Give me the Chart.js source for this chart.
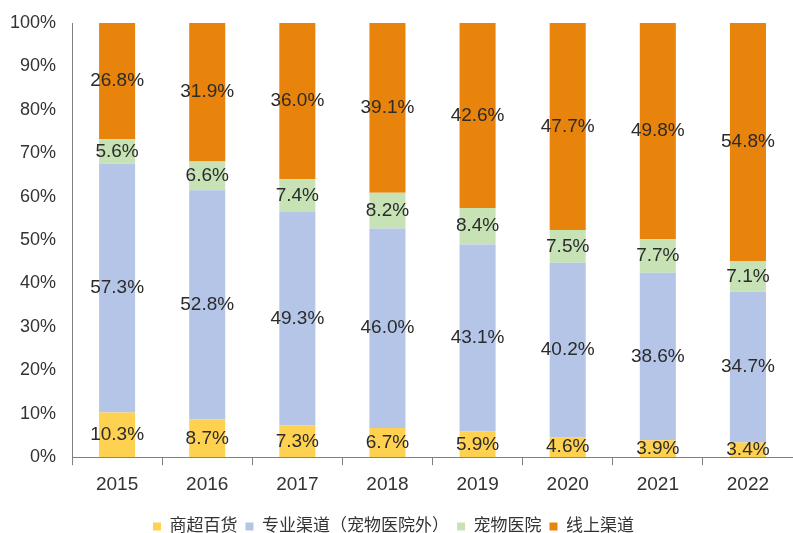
<!DOCTYPE html>
<html>
<head>
<meta charset="utf-8">
<script src="https://cdn.jsdelivr.net/npm/chart.js@4/dist/chart.umd.min.js"></script>
<style>
  html, body { margin: 0; padding: 0; background: #fff; }
</style>
</head>
<body>
<canvas id="chart" width="793" height="533"></canvas>
<script>
  var years = ['2015', '2016', '2017', '2018', '2019', '2020', '2021', '2022'];

  // 各渠道占比(%)
  var shangchao = [10.3, 8.7, 7.3, 6.7, 5.9, 4.6, 3.9, 3.4];
  var zhuanye   = [57.3, 52.8, 49.3, 46.0, 43.1, 40.2, 38.6, 34.7];
  var yiyuan    = [5.6, 6.6, 7.4, 8.2, 8.4, 7.5, 7.7, 7.1];
  var xianshang = [26.8, 31.9, 36.0, 39.1, 42.6, 47.7, 49.8, 54.8];

  var names = ['商超百货', '专业渠道（宠物医院外）', '宠物医院', '线上渠道'];
  var colors = ['#FFD150', '#B4C5E8', '#C7E3B6', '#E8830C'];

  var font = '"Liberation Sans", Arial, "Noto Sans CJK SC", sans-serif';

  // 柱内数值标签
  var labelPlugin = {
    id: 'barLabels',
    afterDatasetsDraw: function(chart) {
      var ctx = chart.ctx;
      ctx.save();
      ctx.font = '19px ' + font;
      ctx.fillStyle = '#2b2b2b';
      ctx.textAlign = 'center';
      ctx.textBaseline = 'middle';
      chart.data.datasets.forEach(function(ds, i) {
        var meta = chart.getDatasetMeta(i);
        meta.data.forEach(function(bar, j) {
          var mid = (bar.y + bar.base) / 2;
          ctx.fillText(ds.data[j].toFixed(1) + '%', bar.x, mid);
        });
      });
      ctx.restore();
    }
  };

  var data = {
    labels: years,
    datasets: [
      { label: names[0], data: shangchao, backgroundColor: colors[0] },
      { label: names[1], data: zhuanye,   backgroundColor: colors[1] },
      { label: names[2], data: yiyuan,    backgroundColor: colors[2] },
      { label: names[3], data: xianshang, backgroundColor: colors[3] }
    ]
  };

  var ctx = document.getElementById('chart').getContext('2d');

  new Chart(ctx, {
    type: 'bar',
    data: data,
    plugins: [labelPlugin],
    options: {
      responsive: false,
      animation: false,
      layout: { padding: { top: 23, right: 0, left: -6, bottom: -12 } },
      datasets: { bar: { barPercentage: 0.4, categoryPercentage: 1.0 } },
      plugins: {
        legend: {
          position: 'bottom',
          labels: {
            boxWidth: 8,
            boxHeight: 8,
            padding: 8,
            color: '#333333',
            font: { size: 17, family: font }
          }
        },
        tooltip: { enabled: false }
      },
      scales: {
        x: {
          stacked: true,
          grid: {
            offset: true,
            drawOnChartArea: false,
            drawTicks: true,
            tickLength: 8,
            color: '#808080'
          },
          border: { color: '#808080' },
          ticks: { color: '#333333', font: { size: 19, family: font }, padding: 8 },
          afterFit: function(scale) { scale.height += 6; }
        },
        y: {
          stacked: true,
          min: 0,
          max: 100,
          grid: { display: false, drawTicks: false },
          border: { color: '#808080' },
          ticks: {
            stepSize: 10,
            color: '#333333',
            padding: 16,
            font: { size: 18, family: font },
            callback: function(v) { return v + '%'; }
          },
          afterFit: function(scale) { scale.paddingTop = 11; }
        }
      }
    }
  });
</script>
</body>
</html>
